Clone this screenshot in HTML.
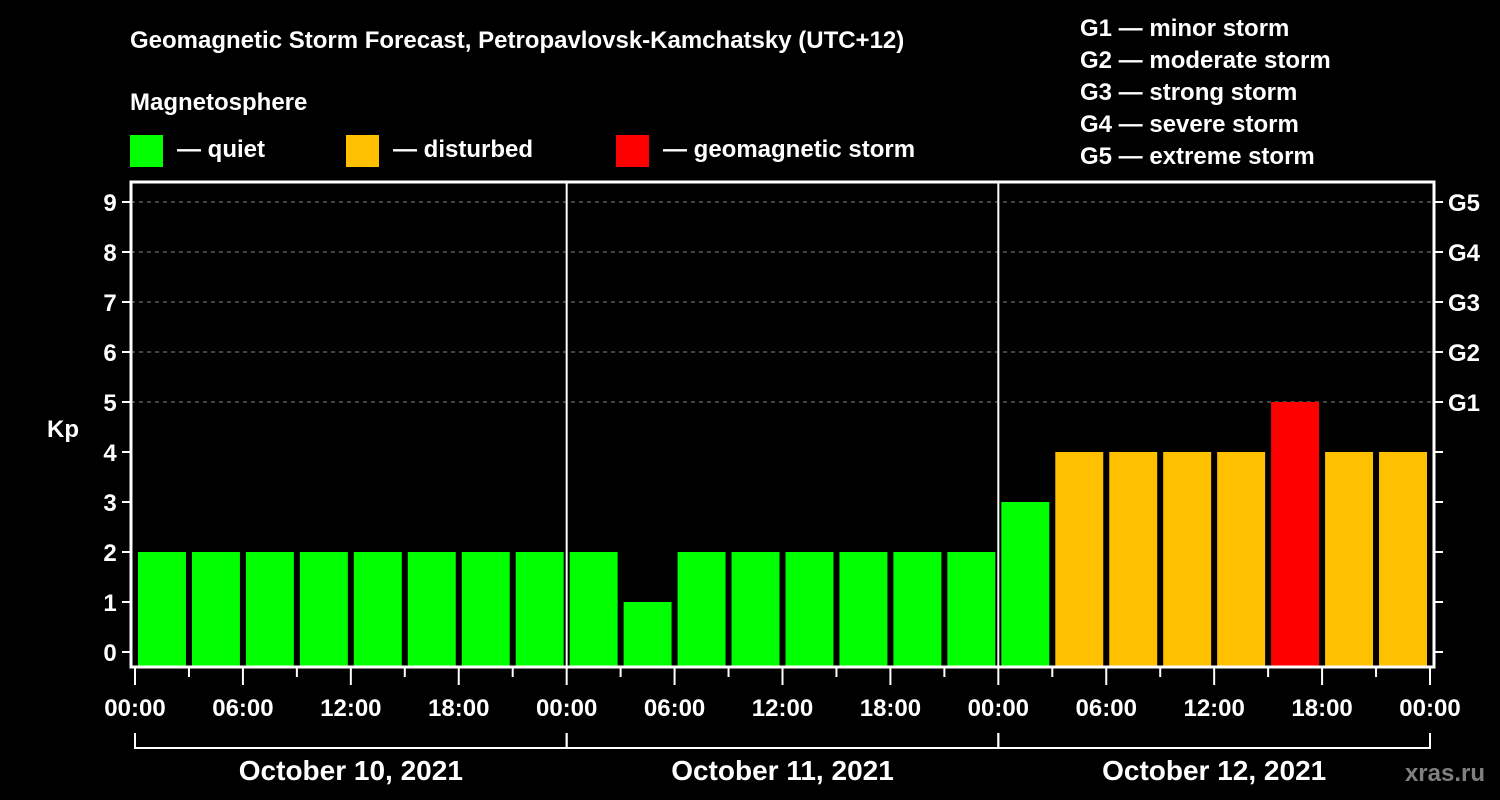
<!DOCTYPE html>
<html><head><meta charset="utf-8"><style>
html,body{margin:0;padding:0;background:#000;}
svg{display:block;font-family:"Liberation Sans",sans-serif;font-weight:bold;}
</style></head><body>
<svg id="chart" width="1500" height="800" viewBox="0 0 1500 800">
<rect x="0" y="0" width="1500" height="800" fill="#000"/>
<text x="130" y="48" fill="#fff" font-size="24">Geomagnetic Storm Forecast, Petropavlovsk-Kamchatsky (UTC+12)</text>
<text x="130" y="110" fill="#fff" font-size="24">Magnetosphere</text>
<g><rect x="130" y="135" width="33" height="32" fill="#00ff00"/><text x="177" y="157" fill="#fff" font-size="24">— quiet</text></g>
<g><rect x="346" y="135" width="33" height="32" fill="#ffc000"/><text x="393" y="157" fill="#fff" font-size="24">— disturbed</text></g>
<g><rect x="616" y="135" width="33" height="32" fill="#ff0000"/><text x="663" y="157" fill="#fff" font-size="24">— geomagnetic storm</text></g>
<g fill="#fff" font-size="24">
<text x="1080" y="36">G1 — minor storm</text>
<text x="1080" y="68">G2 — moderate storm</text>
<text x="1080" y="100">G3 — strong storm</text>
<text x="1080" y="132">G4 — severe storm</text>
<text x="1080" y="164">G5 — extreme storm</text>
</g>
<g id="plot"></g>
<text x="1485" y="781" fill="#808080" font-size="24" text-anchor="end">xras.ru</text>
</svg>
<script>
const kpValues = [2,2,2,2,2,2,2,2, 2,1,2,2,2,2,2,2, 3,4,4,4,4,5,4,4];
const yTicks = [0,1,2,3,4,5,6,7,8,9];
const gLabels = ["G1","G2","G3","G4","G5"];
const xTickLabels = ["00:00","06:00","12:00","18:00","00:00","06:00","12:00","18:00","00:00","06:00","12:00","18:00","00:00"];
const dayLabels = ["October 10, 2021","October 11, 2021","October 12, 2021"];

const NS = "http://www.w3.org/2000/svg";
const plot = document.getElementById("plot");
const X0 = 135, X1 = 1430, HOURS = 72;
const xs = h => X0 + (X1 - X0) * h / HOURS;
const ys = v => 652 - 50 * v;
const BOTTOM = 667, LEFT = 131, RIGHT = 1434, TOP = 182;
function mk(tag, attrs) { const e = document.createElementNS(NS, tag); for (const k in attrs) e.setAttribute(k, attrs[k]); plot.appendChild(e); return e; }

// gridlines
yTicks.forEach(v => {
  if (v >= 5) {
    const g = mk("line", {x1: LEFT, x2: RIGHT, y1: ys(v), y2: ys(v), stroke: "#888", "stroke-dasharray": "4,4", "stroke-width": 1});
    
    
  }
});
// bars
kpValues.forEach((v, i) => {
  const c = v >= 5 ? "#ff0000" : (v >= 4 ? "#ffc000" : "#00ff00");
  const x = xs(i * 3) + 3;
  const w = xs(i * 3 + 3) - xs(i * 3) - 6;
  const r = mk("rect", {x: x, y: ys(v), width: w, height: BOTTOM - ys(v), fill: c});
  
  
});
// day separators
[1, 2].forEach(d => {
  const l = mk("line", {x1: xs(d * 24), x2: xs(d * 24), y1: TOP, y2: BOTTOM, stroke: "#fff", "stroke-width": 2});
  
  
});
// frame
const fr = mk("rect", {x: LEFT, y: TOP, width: RIGHT - LEFT, height: BOTTOM - TOP, fill: "none", stroke: "#fff", "stroke-width": 3});


// y ticks
yTicks.forEach(v => {
  const t = mk("line", {x1: LEFT - 9, x2: LEFT, y1: ys(v), y2: ys(v), stroke: "#fff", "stroke-width": 2});
  
  
  const t2 = mk("line", {x1: RIGHT, x2: RIGHT + 9, y1: ys(v), y2: ys(v), stroke: "#fff", "stroke-width": 2});
  
  
  const l = mk("text", {x: 110, y: ys(v) + 9, fill: "#fff", "font-size": 24, "text-anchor": "middle"});
  l.textContent = v;
  
  
});
gLabels.forEach((g, i) => {
  const l = mk("text", {x: 1448, y: ys(5 + i) + 9, fill: "#fff", "font-size": 24});
  l.textContent = g;
  
  
});
const kp = mk("text", {x: 63, y: 437, fill: "#fff", "font-size": 24, "text-anchor": "middle"});
kp.textContent = "Kp";


// x ticks
for (let h = 0; h <= HOURS; h += 3) {
  const major = h % 6 === 0;
  const t = mk("line", {x1: xs(h), x2: xs(h), y1: BOTTOM, y2: major ? 685 : 677, stroke: "#fff", "stroke-width": 2});
  
  
}
xTickLabels.forEach((s, i) => {
  const l = mk("text", {x: xs(i * 6), y: 716, fill: "#fff", "font-size": 24, "text-anchor": "middle"});
  l.textContent = s;
  
  
});
// day brackets
dayLabels.forEach((s, d) => {
  const a = xs(d * 24), b = xs(d * 24 + 24);
  const p = mk("path", {d: `M${a},733 V748 H${b} V733`, fill: "none", stroke: "#fff", "stroke-width": 2});
  
  
  const l = mk("text", {x: (a + b) / 2, y: 780, fill: "#fff", "font-size": 28, "text-anchor": "middle"});
  l.textContent = s;
  
  
});
</script>
</body></html>
